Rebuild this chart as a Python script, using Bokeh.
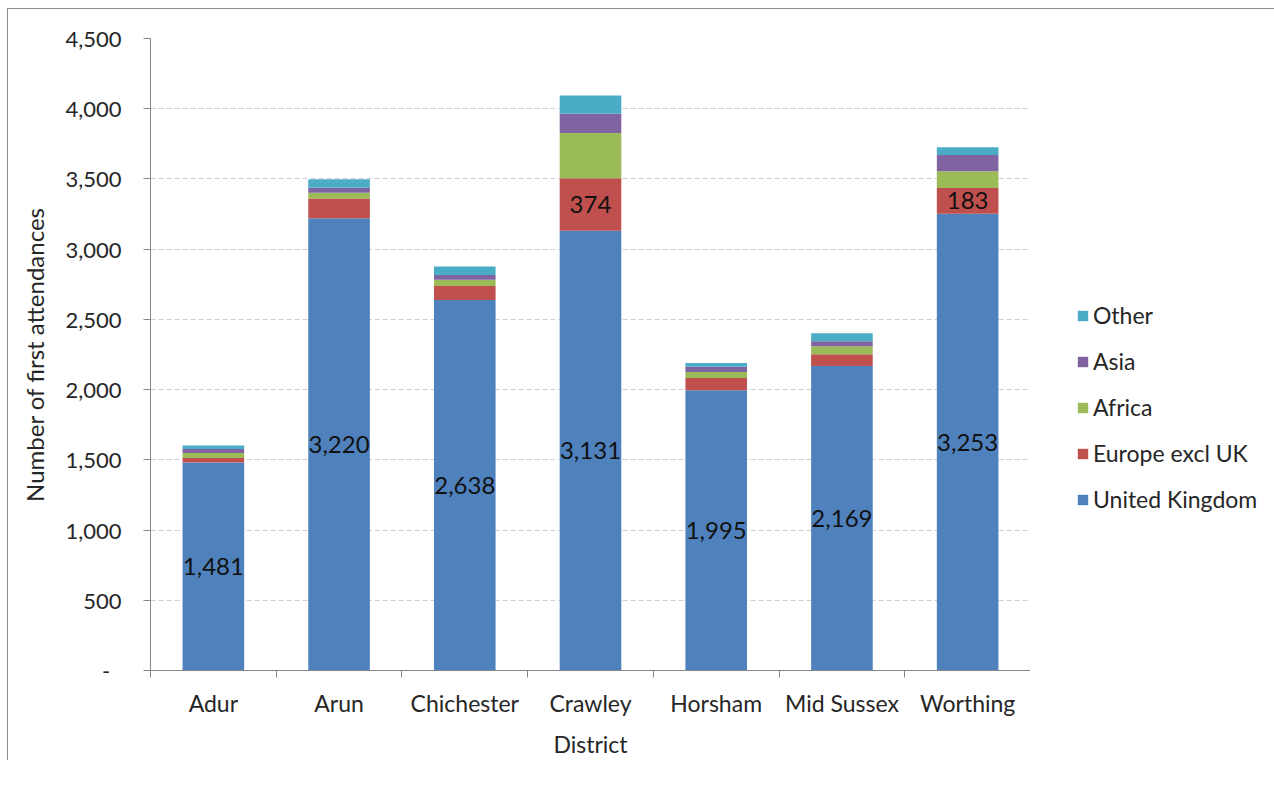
from bokeh.plotting import figure
from bokeh.layouts import row
from bokeh.models import (ColumnDataSource, Range1d, LinearAxis, FixedTicker,
                          NumeralTickFormatter, Legend, LegendItem, LabelSet)
from bokeh.core.properties import value
from bokeh.embed import file_html
from bokeh.resources import INLINE

# First attendances by district, split by country/region of birth
districts = ["Adur", "Arun", "Chichester", "Crawley", "Horsham", "Mid Sussex", "Worthing"]
united_kingdom = [1481, 3220, 2638, 3131, 1995, 2169, 3253]
europe_excl_uk = [32, 140, 100, 374, 88, 83, 183]
africa = [36, 42, 45, 323, 43, 57, 119]
asia = [28, 35, 33, 136, 36, 36, 116]
other = [25, 60, 60, 130, 28, 57, 55]

series_keys = ["united_kingdom", "europe_excl_uk", "africa", "asia", "other"]
series_names = ["United Kingdom", "Europe excl UK", "Africa", "Asia", "Other"]
series_colors = ["#4F81BD", "#C0504D", "#9BBB59", "#8064A2", "#4BACC6"]
# Districts whose Europe segment carries a data label
europe_labelled = ["Crawley", "Worthing"]

y_ticks = [0, 500, 1000, 1500, 2000, 2500, 3000, 3500, 4000, 4500]

FONT = "Lato"
TEXT = "#262626"
AXIS = "#868686"
HEIGHT = 751

# each district occupies one unit-wide slot; bars sit at the slot centres
n = len(districts)
slot_centres = [i + 0.5 for i in range(n)]
slot_edges = list(range(n + 1))

source = ColumnDataSource(dict(
    slot=slot_centres,
    district=districts,
    united_kingdom=united_kingdom,
    europe_excl_uk=europe_excl_uk,
    africa=africa,
    asia=asia,
    other=other,
))

p = figure(
    x_range=Range1d(0, n),
    y_range=Range1d(y_ticks[0], y_ticks[-1]),
    width=1022, height=HEIGHT,
    output_backend="svg", toolbar_location=None,
    x_axis_location=None,
    min_border_left=142, min_border_right=0, min_border_top=29, min_border_bottom=90,
)
p.outline_line_color = None
p.background_fill_color = "white"

bars = p.vbar_stack(series_keys, x="slot", width=0.49, source=source,
                    color=series_colors, line_color=None)

# y axis
yax = p.yaxis[0]
yax.ticker = FixedTicker(ticks=y_ticks)
yax.formatter = NumeralTickFormatter(format="0,0")
yax.major_label_overrides = {0: "-\u00a0\u00a0"}
yax.axis_line_color = AXIS
yax.major_tick_line_color = AXIS
yax.major_tick_out = 7
yax.major_tick_in = 0
yax.minor_tick_line_color = None
yax.major_label_standoff = 22
yax.major_label_text_font = FONT
yax.major_label_text_font_size = "22px"
yax.major_label_text_color = TEXT
yax.axis_label = "Number of first attendances"
yax.axis_label_text_font = FONT
yax.axis_label_text_font_size = "24px"
yax.axis_label_text_font_style = "normal"
yax.axis_label_text_color = TEXT
yax.axis_label_standoff = 13

p.ygrid.grid_line_color = "#d0d0d0"
p.ygrid.grid_line_dash = "5 3"
p.xgrid.visible = False

# x axis: ticks at slot boundaries (no labels), district names beneath at slot centres
tick_axis = LinearAxis(
    ticker=FixedTicker(ticks=slot_edges),
    major_label_text_font_size="1px", major_label_text_color=None,
    axis_line_color=AXIS, major_tick_line_color=AXIS,
    major_tick_out=7, major_tick_in=0, minor_tick_line_color=None,
    major_label_standoff=0,
)
p.add_layout(tick_axis, "below")

name_axis = LinearAxis(
    ticker=FixedTicker(ticks=slot_centres),
    major_label_overrides={c: d for c, d in zip(slot_centres, districts)},
    axis_line_color=None, major_tick_line_color=None, major_tick_out=0, major_tick_in=0,
    minor_tick_line_color=None,
    major_label_standoff=11,
    major_label_text_font=FONT, major_label_text_font_size="23px", major_label_text_color=TEXT,
    axis_label="District", axis_label_text_font=FONT, axis_label_text_font_size="23px",
    axis_label_text_font_style="normal", axis_label_text_color=TEXT, axis_label_standoff=10,
)
p.add_layout(name_axis, "below")

# data labels
label_x, label_y, label_text = [], [], []
for c, d, uk, eu in zip(slot_centres, districts, united_kingdom, europe_excl_uk):
    label_x.append(c)
    label_y.append(uk / 2)
    label_text.append(f"{uk:,}")
    if d in europe_labelled:
        label_x.append(c)
        label_y.append(uk + eu / 2)
        label_text.append(f"{eu:,}")
label_src = ColumnDataSource(dict(x=label_x, y=label_y, text=label_text))
p.add_layout(LabelSet(x="x", y="y", text="text", source=label_src,
                      text_align="center", text_baseline="middle",
                      text_font=value(FONT), text_font_size="24px", text_color="#111111"))

# legend panel to the right of the chart; swatch renderers carry no drawable point
legend_fig = figure(
    width=244, height=HEIGHT, output_backend="svg", toolbar_location=None,
    x_axis_location=None, y_axis_location=None,
    x_range=Range1d(0, 1), y_range=Range1d(0, 1),
    min_border_left=0, min_border_right=0, min_border_top=0, min_border_bottom=0,
)
legend_fig.outline_line_color = None
legend_fig.grid.visible = False
swatch_src = ColumnDataSource(dict(x=[float("nan")], top=[float("nan")]))
swatches = [legend_fig.vbar(x="x", top="top", width=1, source=swatch_src,
                            color=col, line_color=None) for col in series_colors]

# top entry is the top of the stack
items = [LegendItem(label=name, renderers=[r]) for name, r in zip(series_names, swatches)]
legend = Legend(items=items[::-1], location=(46, 156),
                padding=0, margin=0, border_line_color=None, background_fill_alpha=0,
                glyph_width=13, glyph_height=13, label_standoff=4,
                label_height=30, spacing=16,
                label_text_font=FONT, label_text_font_size="23px", label_text_color=TEXT)
legend_fig.add_layout(legend, "center")

layout = row(p, legend_fig)
layout.styles = {"margin-left": "7px", "margin-top": "8px",
                 "border-left": "1px solid #8c8c8c", "border-top": "1px solid #8c8c8c"}

open("out.html", "w").write(file_html(layout, INLINE))
